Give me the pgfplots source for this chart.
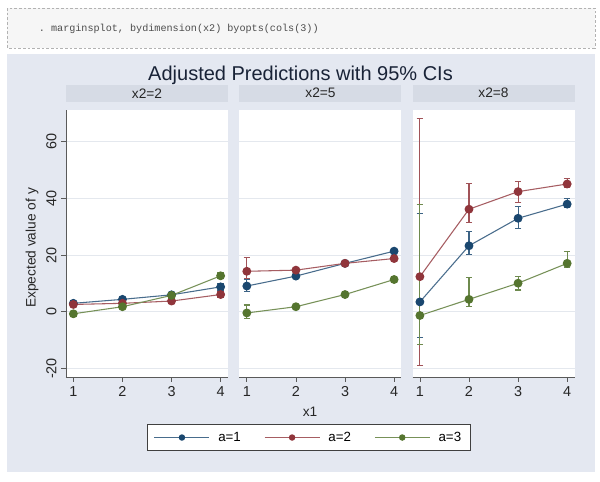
\documentclass[border=0pt]{standalone}
\usepackage{fontspec}
\setmainfont{Liberation Sans}
\setmonofont{Liberation Mono}
\usepackage{pgfplots}
\pgfplotsset{compat=1.18}
\usepackage{pgfplotstable}

\definecolor{c1}{RGB}{26,71,111}
\definecolor{c2}{RGB}{144,53,59}
\definecolor{c3}{RGB}{85,117,47}
\definecolor{region}{RGB}{228,232,241}
\definecolor{strip}{RGB}{214,219,229}
\definecolor{gridc}{RGB}{228,232,238}
\definecolor{axisc}{RGB}{90,90,90}
\definecolor{codebg}{RGB}{246,246,246}
\definecolor{titlec}{RGB}{25,35,55}

% x  y  ep  em
\pgfplotstableread{
x y ep em
1 3.0 0.8 0.8
2 4.4 0.7 0.7
3 6.0 0.8 0.8
4 8.8 1.2 1.2
}\pa
\pgfplotstableread{
x y ep em
1 2.6 0.8 0.8
2 3.0 0.7 0.7
3 3.8 0.8 0.8
4 6.1 1.2 1.2
}\pb
\pgfplotstableread{
x y ep em
1 -0.7 0.8 0.8
2 1.8 0.7 0.7
3 5.8 0.8 0.8
4 12.7 1.0 1.0
}\pc
\pgfplotstableread{
x y ep em
1 9.1 2.2 2.0
2 12.6 0.9 0.9
3 17.1 0.8 0.8
4 21.4 0.9 0.9
}\qa
\pgfplotstableread{
x y ep em
1 14.3 4.9 2.4
2 14.7 0.9 0.9
3 17.1 0.8 0.8
4 18.8 0.9 0.9
}\qb
\pgfplotstableread{
x y ep em
1 -0.4 2.8 1.9
2 1.8 0.6 0.6
3 6.1 0.6 0.6
4 11.4 0.8 0.8
}\qc
\pgfplotstableread{
x y ep em
1 3.5 31.1 12.5
2 23.3 4.9 3.0
3 33.0 4.2 3.6
4 38.0 2.0 1.1
}\ra
\pgfplotstableread{
x y ep em
1 12.4 55.8 31.2
2 36.2 9.1 4.7
3 42.4 3.5 3.9
4 45.1 2.0 1.3
}\rb
\pgfplotstableread{
x y ep em
1 -1.3 39.2 10.2
2 4.4 7.6 2.4
3 10.1 2.5 2.4
4 17.1 4.1 1.4
}\rc

\pgfplotsset{
  panel/.style={
    scale only axis, width=121.5pt, height=200.25pt,
    anchor=north west,
    xmin=0.85, xmax=4.15, ymin=-23, ymax=71.2,
    axis x line*=bottom, axis y line*=left,
    axis line style={axisc, line width=0.6pt, -},
    xtick={1,2,3,4}, ytick={-20,0,20,40,60},
    tick align=outside, major tick length=3.5pt,
    tick style={axisc, line width=0.6pt},
    ymajorgrids, grid style={gridc, line width=0.6pt},
    axis background/.style={fill=white},
    ticklabel style={font=\fontsize{10.8}{12}\selectfont, text=black!85},
    /pgf/number format/assume math mode=true,
    title style={at={(0.5,1)}, anchor=south, yshift=0pt, fill=strip,
      minimum width=121.5pt, minimum height=12.75pt, inner sep=0pt,
      font=\fontsize{10.3}{12}\selectfont, text=black!85},
  },
  noy/.style={y axis line style={draw=none}, ytick style={draw=none}, yticklabels={}},
  eb/.style={#1!85!white, only marks, mark=none, forget plot,
    error bars/.cd, y dir=both, y explicit,
    error bar style={draw=#1!85!white, line width=0.85pt, solid},
    error mark options={draw=#1!85!white, rotate=90, mark size=2.4pt, line width=0.8pt}},
  ln/.style={#1!80!white, line width=0.8pt, mark=*, mark size=2.9pt,
    mark options={draw=#1, fill=#1, solid}},
}

\begin{document}
\begin{tikzpicture}
\fill[white] (0pt,0pt) rectangle (450pt,-361.5pt);
% code box
\fill[codebg] (5.25pt,-6pt) rectangle (446.25pt,-36pt);
\draw[gray!60, dash pattern=on 2pt off 1.5pt, line width=0.5pt] (5.25pt,-6pt) rectangle (446.25pt,-36pt);
\node[anchor=west, font=\ttfamily\fontsize{7.6}{9}\selectfont, text=black!70, inner sep=0pt] at (29pt,-21.5pt) {. marginsplot, bydimension(x2) byopts(cols(3))};
% graph region
\fill[region] (5.25pt,-40.5pt) rectangle (446.25pt,-354pt);
\node[font=\fontsize{15}{18}\selectfont, text=titlec] at (225.4pt,-56.25pt) {Adjusted Predictions with 95\% CIs};
\node[rotate=90, font=\fontsize{10.3}{12}\selectfont, text=black!85] at (24pt,-186pt) {Expected value of y};
\node[font=\fontsize{10.3}{12}\selectfont, text=black!85] at (232.5pt,-309pt) {x1};

\begin{axis}[panel, at={(49.5pt,-82.5pt)}, title={x2=2},
  yticklabel style={rotate=90, anchor=south}]
\addplot[eb=c1] table[x=x,y=y,y error plus=ep,y error minus=em] {\pa};
\addplot[eb=c2] table[x=x,y=y,y error plus=ep,y error minus=em] {\pb};
\addplot[eb=c3] table[x=x,y=y,y error plus=ep,y error minus=em] {\pc};
\addplot[ln=c1] table[x=x,y=y] {\pa};
\addplot[ln=c2] table[x=x,y=y] {\pb};
\addplot[ln=c3] table[x=x,y=y] {\pc};
\end{axis}

\begin{axis}[panel, noy, at={(179.6pt,-82.5pt)}, title={x2=5},
  legend columns=3,
  legend image code/.code={\draw[mark repeat=2,mark phase=2,#1] plot coordinates {(0pt,0pt) (20.6pt,0pt) (41.25pt,0pt)};},
  legend image post style={mark size=2pt},
  legend style={at={(0.4286,-0.2266)}, anchor=center, draw=black!75, line width=0.6pt, fill=white,
    font=\fontsize{10}{12}\selectfont, inner xsep=5pt, inner ysep=3.5pt,
    /tikz/every even column/.append style={column sep=15.4pt},
    /tikz/every odd column/.append style={column sep=4.2pt}}]
\addplot[eb=c1] table[x=x,y=y,y error plus=ep,y error minus=em] {\qa};
\addplot[eb=c2] table[x=x,y=y,y error plus=ep,y error minus=em] {\qb};
\addplot[eb=c3] table[x=x,y=y,y error plus=ep,y error minus=em] {\qc};
\addplot[ln=c1] table[x=x,y=y] {\qa};
\addplot[ln=c2] table[x=x,y=y] {\qb};
\addplot[ln=c3] table[x=x,y=y] {\qc};
\legend{a=1,a=2,a=3}
\end{axis}

\begin{axis}[panel, noy, at={(309.4pt,-82.5pt)}, title={x2=8}]
\addplot[eb=c1] table[x=x,y=y,y error plus=ep,y error minus=em] {\ra};
\addplot[eb=c2] table[x=x,y=y,y error plus=ep,y error minus=em] {\rb};
\addplot[eb=c3] table[x=x,y=y,y error plus=ep,y error minus=em] {\rc};
\addplot[ln=c1] table[x=x,y=y] {\ra};
\addplot[ln=c2] table[x=x,y=y] {\rb};
\addplot[ln=c3] table[x=x,y=y] {\rc};
\end{axis}
\end{tikzpicture}
\end{document}
